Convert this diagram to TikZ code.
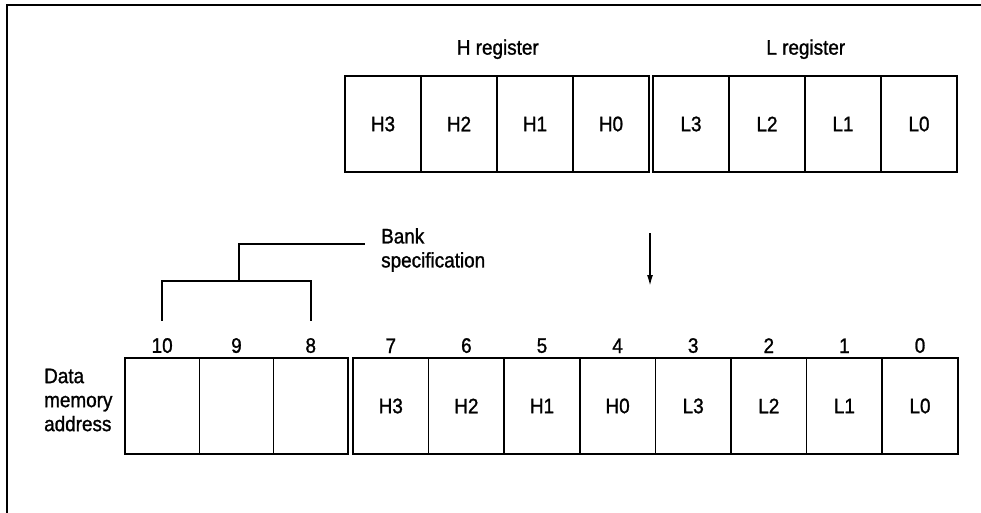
\documentclass[tikz,border=0pt]{standalone}
\usepackage{fontspec}
\setmainfont[FakeStretch=0.9,FakeBold=1.2]{Liberation Sans}
\usepackage{tikz}
\usetikzlibrary{arrows.meta,positioning}

\begin{document}
\begin{tikzpicture}[
  x=1pt, y=-1pt,
  node distance=4pt,
  cell/.style={draw, line width=1.6pt, minimum width=76pt, minimum height=96pt,
               inner sep=0pt, font=\fontsize{21}{24}\selectfont},
  bankcell/.style={cell, minimum width=74.3pt},
  datacell/.style={cell, minimum width=75.6pt},
  num/.style={inner sep=0pt, font=\fontsize{21}{24}\selectfont},
  lbl/.style={inner sep=0pt, font=\fontsize{21}{24}\selectfont, align=left},
  wire/.style={line width=1.6pt},
  flow/.style={-{Latex[length=11pt,width=6pt]}, line width=1.6pt}
]
\useasboundingbox (0,0) rectangle (981,513);

% Frame (top and left only)
\draw[line width=1.8pt] (981,5) -| (7,513);

% === Top: H and L registers ===
\foreach \t [count=\i from 0] in {H3,H2,H1,H0}
  \node[cell] (top\t) at (383+76*\i, 124) {\t};
\foreach \t [count=\i from 0] in {L3,L2,L1,L0}
  \node[cell] (top\t) at (691+76*\i, 124) {\t};

\node[lbl, above=16pt of topH2.north east] (hreg) {H register};
\node[lbl, above=16pt of topL2.north east] (lreg) {L register};

% Arrow down
\coordinate (arrtop) at (650,233);
\coordinate (arrtip) at (650,286);
\draw[flow] (arrtop) -- (arrtip);

% === Bottom: data memory address ===
\foreach \n [count=\i from 0] in {10,9,8}
  \node[bankcell] (a\n) at (162.15+74.3*\i, 406) {};
\foreach \n/\t [count=\i from 0] in {7/H3,6/H2,5/H1,4/H0,3/L3,2/L2,1/L1,0/L0}
  \node[datacell] (a\n) at (390.8+75.6*\i, 406) {\t};

\foreach \n in {10,9,...,0}
  \node[num, above=4pt of a\n] (n\n) {\n};

\node[lbl, anchor=west] (dma) at (44,400) {Data\\memory\\address};

% Bank bracket
\coordinate (brtop) at (239,281);
\coordinate (banktip) at (365,244);
\draw[wire] ([yshift=17pt]n10.north) |- (brtop) -| ([yshift=17pt]n8.north);
\draw[wire] (brtop) |- (banktip);
\node[lbl, anchor=west] (bank) at (381,250) {Bank\\specification};

\end{tikzpicture}
\end{document}
